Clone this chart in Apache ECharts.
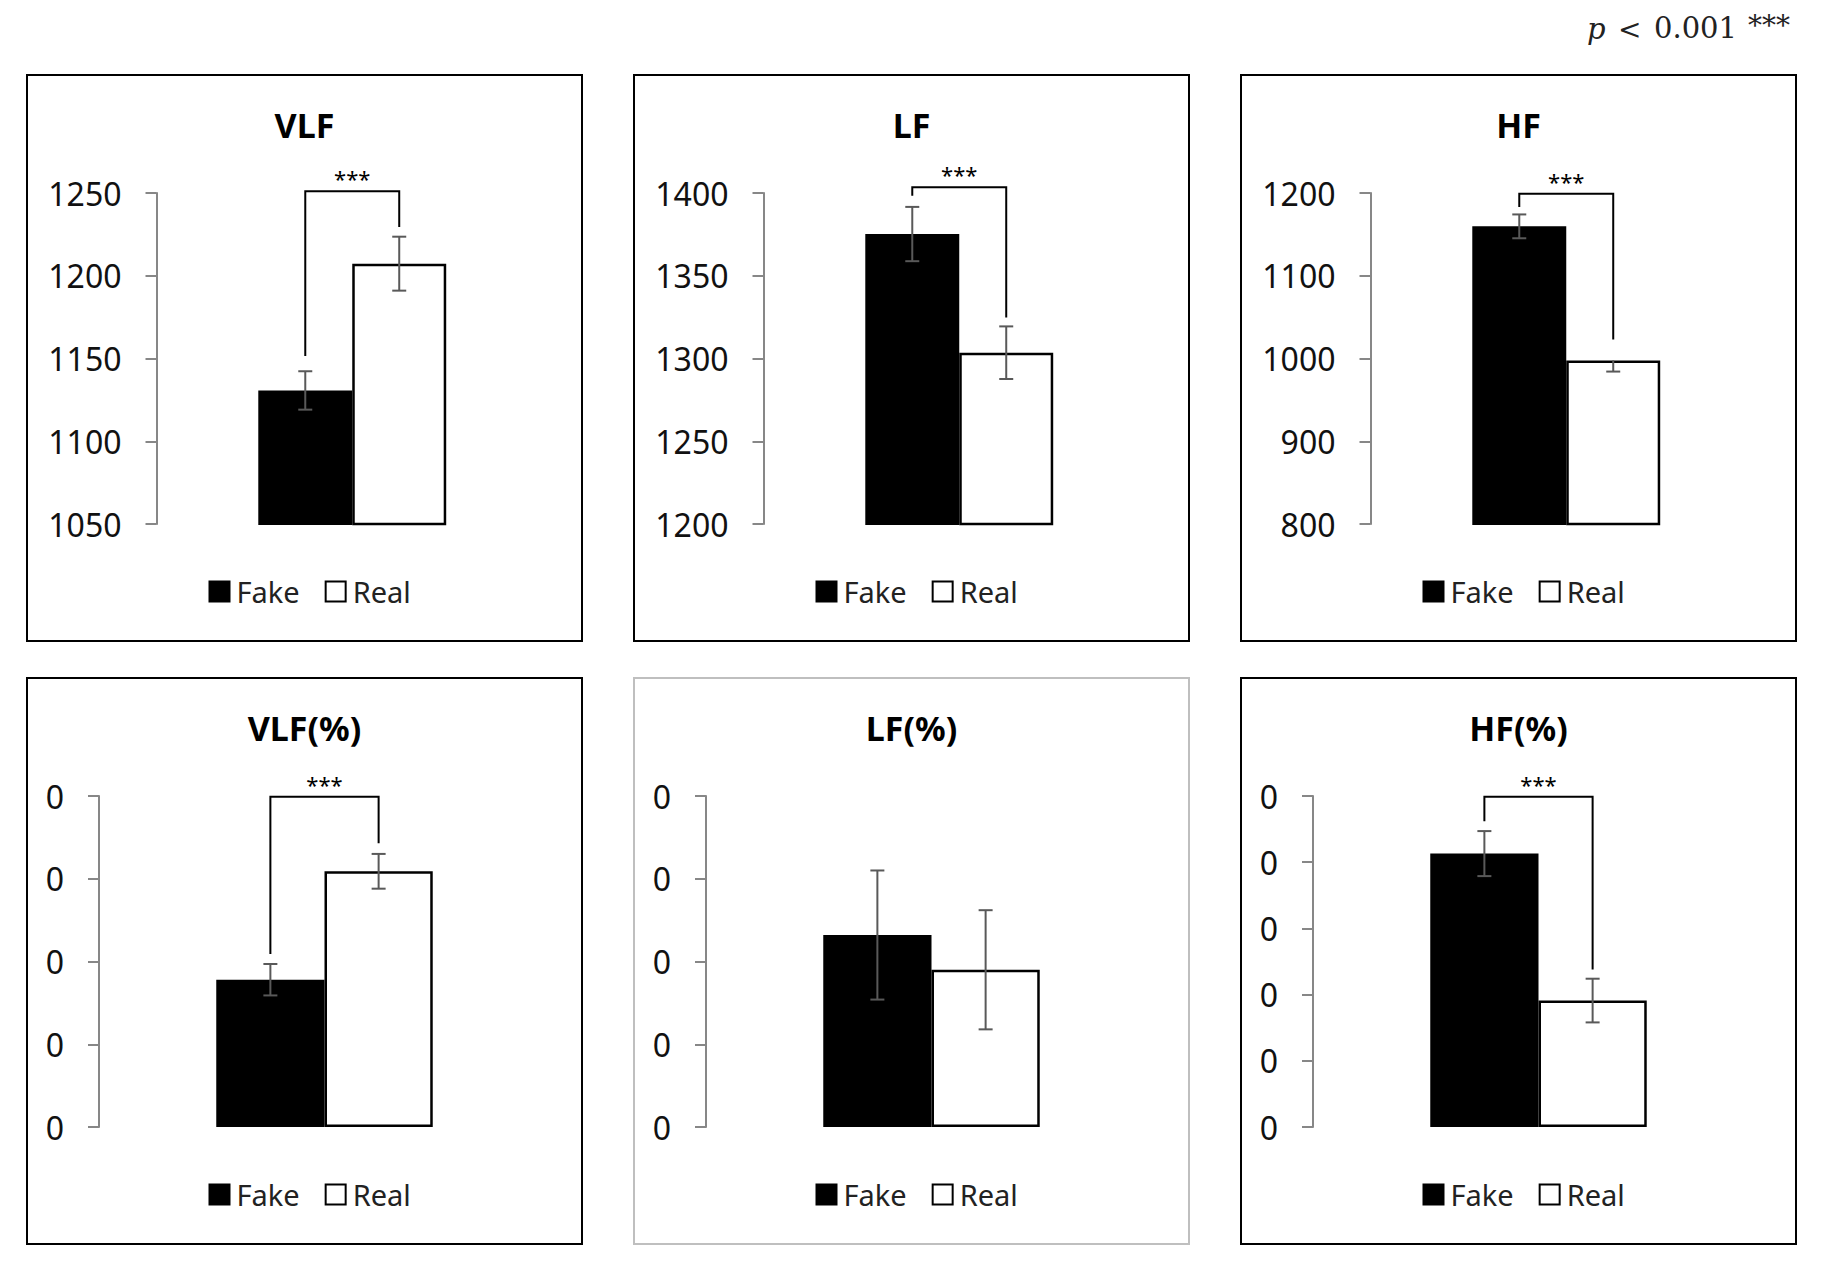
<!DOCTYPE html>
<html><head><meta charset="utf-8">
<script src="https://cdn.jsdelivr.net/npm/echarts@6/dist/echarts.min.js"></script>
<style>html,body{margin:0;padding:0;background:#fff}#c{width:1827px;height:1265px}</style>
</head><body><div id="c"></div>
<script>
// ---- data ----
const panelTitles = ['VLF', 'LF', 'HF', 'VLF(%)', 'LF(%)', 'HF(%)'];
const seriesNames = ['Fake', 'Real'];
const categories = ['HRV'];
const fakeMeans = [1130.7, 1375.2, 1159.7, 0.178, 0.232, 0.413];
const realMeans = [1207.3, 1303.5, 997.7, 0.309, 0.190, 0.191];
const fakeErrUp = [11.6, 16.4, 14.4, 0.019, 0.078, 0.034];
const fakeErrDown = [11.6, 16.4, 14.4, 0.019, 0.078, 0.034];
const realErrUp = [16.3, 15.9, 0, 0.021, 0.072, 0.033];
const realErrDown = [16.3, 15.9, 13.5, 0.021, 0.072, 0.033];
const axisMin = [1050, 1200, 800, 0, 0, 0];
const axisMax = [1250, 1400, 1200, 0.4, 0.4, 0.5];
const axisStep = [50, 50, 100, 0.1, 0.1, 0.1];
const tickLabels = [
  ['1050', '1100', '1150', '1200', '1250'],
  ['1200', '1250', '1300', '1350', '1400'],
  ['800', '900', '1000', '1100', '1200'],
  ['0', '0', '0', '0', '0'],
  ['0', '0', '0', '0', '0'],
  ['0', '0', '0', '0', '0', '0']
];
const sigMarks = ['***', '***', '***', '***', '', '***'];
const bracketTop = [1251, 1403.5, 1199, 0.399, null, 0.499];
const bracketFakeEnd = [1151.5, 1398.4, 1183, 0.209, null, 0.462];
const bracketRealEnd = [1229.5, 1324.8, 1023, 0.343, null, 0.238];

// ---- layout ----
const FONT = '"Noto Sans", "Open Sans", sans-serif';
const SERIF = '"DejaVu Serif", "Liberation Serif", serif';
const panelLeft = [27, 634, 1241];
const panelTop = [75, 678];
const panelW = 555, panelH = 566;
const BAR_FRAC = 0.24;

const grids = [], xAxes = [], yAxes = [], series = [], legends = [], graphics = [];

for (let i = 0; i < 6; i++) {
  const col = i % 3, row = Math.floor(i / 3);
  const pl = panelLeft[col], pt = panelTop[row];
  const gl = pl + (row === 0 ? 129.5 : 72);
  const gw = row === 0 ? 391.5 : 451;
  grids.push({ left: gl, top: pt + 118, width: gw, height: 331 });
  xAxes.push({
    type: 'category', gridIndex: i, data: categories,
    axisLine: { show: false }, axisTick: { show: false }, axisLabel: { show: false }
  });
  const labels = tickLabels[i];
  yAxes.push({
    type: 'value', gridIndex: i, min: axisMin[i], max: axisMax[i], interval: axisStep[i],
    axisLine: { show: true, lineStyle: { color: '#878787', width: 2 } },
    axisTick: { show: true, length: 11, lineStyle: { color: '#878787', width: 2 } },
    splitLine: { show: false },
    axisLabel: {
      margin: 35, fontSize: 32, color: '#111', fontFamily: FONT,
      formatter: (v, idx) => labels[idx] !== undefined ? labels[idx] : ''
    }
  });
  series.push({
    name: seriesNames[0], type: 'bar', xAxisIndex: i, yAxisIndex: i,
    data: [fakeMeans[i]], barWidth: (BAR_FRAC * 100) + '%', barGap: '0%',
    itemStyle: { color: '#000', borderColor: '#000', borderWidth: 2 }, z: 2
  });
  series.push({
    name: seriesNames[1], type: 'bar', xAxisIndex: i, yAxisIndex: i,
    data: [realMeans[i]], barWidth: (BAR_FRAC * 100) + '%', barGap: '0%',
    itemStyle: { color: '#fff', borderColor: '#000', borderWidth: 2.5 }, z: 2
  });
  // error bars
  series.push({
    name: 'err' + i, type: 'custom', xAxisIndex: i, yAxisIndex: i, clip: false, z: 5,
    data: [[0, fakeMeans[i], fakeErrUp[i], fakeErrDown[i], -1],
           [0, realMeans[i], realErrUp[i], realErrDown[i], 1]],
    renderItem: function (params, api) {
      const x = api.value(0), m = api.value(1), eu = api.value(2), ed = api.value(3), side = api.value(4);
      const band = api.size([1, 0])[0];
      const cx = api.coord([x, m])[0] + side * band * BAR_FRAC / 2;
      const yt = api.coord([x, m + eu])[1], yb = api.coord([x, m - ed])[1];
      const cap = 7, st = { stroke: '#595959', lineWidth: 2 };
      const kids = [{ type: 'line', shape: { x1: cx, y1: yt, x2: cx, y2: yb }, style: st }];
      if (eu > 0) kids.push({ type: 'line', shape: { x1: cx - cap, y1: yt, x2: cx + cap, y2: yt }, style: st });
      if (ed > 0) kids.push({ type: 'line', shape: { x1: cx - cap, y1: yb, x2: cx + cap, y2: yb }, style: st });
      return { type: 'group', children: kids };
    }
  });
  if (bracketTop[i] !== null) {
    const mark = sigMarks[i];
    series.push({
      name: 'sig' + i, type: 'custom', xAxisIndex: i, yAxisIndex: i, clip: false, z: 6,
      data: [[0, bracketTop[i], bracketFakeEnd[i], bracketRealEnd[i]]],
      renderItem: function (params, api) {
        const x = api.value(0);
        const band = api.size([1, 0])[0];
        const c = api.coord([x, api.value(1)]);
        const fx = c[0] - band * BAR_FRAC / 2, rx = c[0] + band * BAR_FRAC / 2;
        const yF = api.coord([x, api.value(2)])[1], yR = api.coord([x, api.value(3)])[1];
        return {
          type: 'group', children: [
            { type: 'polyline', shape: { points: [[fx, yF], [fx, c[1]], [rx, c[1]], [rx, yR]] },
              style: { stroke: '#000', lineWidth: 2, fill: null } },
            { type: 'text', x: c[0], y: c[1] - 13,
              style: { text: mark, font: '22px ' + FONT, fill: '#000',
                       textAlign: 'center', textVerticalAlign: 'middle' } }
          ]
        };
      }
    });
  }
  legends.push({
    data: seriesNames, left: pl + 181.5, top: pt + 502, padding: 0,
    icon: 'rect', itemWidth: 20, itemHeight: 20, itemGap: 25, selectedMode: false,
    itemStyle: { borderColor: '#000', borderWidth: 2 },
    textStyle: { fontSize: 29, color: '#222', fontFamily: FONT, padding: [0, 0, 0, 2] }
  });
  graphics.push({
    type: 'rect', shape: { x: pl, y: pt, width: panelW, height: panelH },
    style: { fill: 'none', stroke: i === 4 ? '#bfbfbf' : '#000', lineWidth: 2 }, z: 0
  });
  graphics.push({
    type: 'text', x: pl + panelW / 2, y: pt + 49.5,
    style: { text: panelTitles[i], font: 'bold 34px ' + FONT, fill: '#000',
             textAlign: 'center', textVerticalAlign: 'middle' }
  });
}
// significance note (top right)
graphics.push({ type: 'text', x: 1587, y: 29,
  style: { text: 'p', font: 'italic 29px ' + SERIF, fill: '#222', textAlign: 'left', textVerticalAlign: 'middle' } });
graphics.push({ type: 'text', x: 1618, y: 29,
  style: { text: '<', font: '28px ' + SERIF, fill: '#222', textAlign: 'left', textVerticalAlign: 'middle' } });
graphics.push({ type: 'text', x: 1654, y: 28,
  style: { text: '0.001', font: '29px ' + SERIF, fill: '#222', textAlign: 'left', textVerticalAlign: 'middle' } });
graphics.push({ type: 'text', x: 1748, y: 25,
  style: { text: '***', font: '28px ' + SERIF, fill: '#222', textAlign: 'left', textVerticalAlign: 'middle' } });

const chart = echarts.init(document.getElementById('c'), null, { renderer: 'svg' });
chart.setOption({
  animation: false,
  backgroundColor: '#fff',
  grid: grids, xAxis: xAxes, yAxis: yAxes, series: series,
  legend: legends, graphic: graphics
});
</script>
</body></html>
